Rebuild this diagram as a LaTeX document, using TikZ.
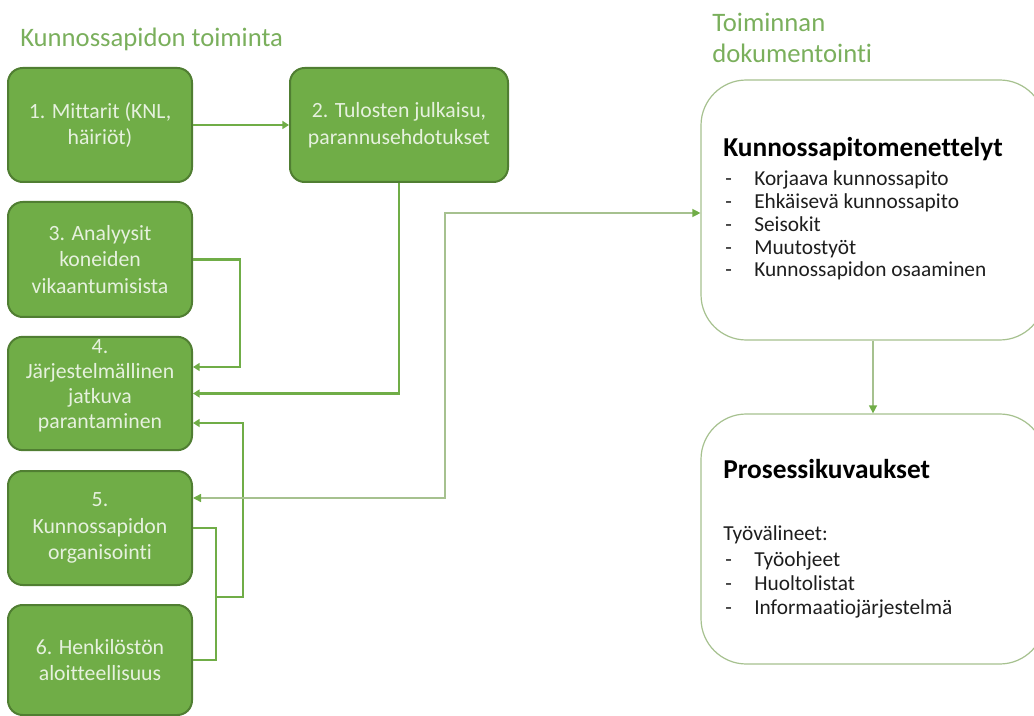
\documentclass[tikz,border=0pt]{standalone}
\usepackage{fontspec}
\setmainfont{Carlito}[Ligatures={NoCommon}]
\usetikzlibrary{arrows.meta,calc}

\definecolor{boxfill}{HTML}{70AD47}
\definecolor{boxedge}{HTML}{507E32}
\definecolor{boxtext}{HTML}{E6F1DE}
\definecolor{titlegreen}{HTML}{7AAF5C}
\definecolor{thinline}{HTML}{A6C18F}
\definecolor{bodytext}{HTML}{1E1E1E}

\begin{document}
\begin{tikzpicture}[x=0.75pt,y=-0.75pt,
  stepbox/.style={rectangle, rounded corners=11pt, fill=boxfill, draw=boxedge,
    line width=1.5pt, text=boxtext, align=center, inner sep=0pt,
    font=\fontsize{16.3}{19.9}\selectfont},
  steptext/.style={text=boxtext, align=center, inner sep=0pt,
    font=\fontsize{16.3}{18.75}\selectfont},
  docbox/.style={rectangle, rounded corners=34pt, draw=thinline, fill=white,
    line width=0.9pt, inner sep=0pt, minimum width=258pt},
  heading/.style={anchor=base west, inner sep=0pt, text=titlegreen,
    font=\fontsize{20}{24}\selectfont},
  dochead/.style={anchor=base west, inner sep=0pt, text=black,
    font=\bfseries\fontsize{20.5}{24}\selectfont},
  docline/.style={anchor=base west, inner sep=0pt, text=bodytext,
    font=\fontsize{16}{18}\selectfont},
  link/.style={draw=boxfill, line width=2.2pt,
    -{Triangle[length=5pt,width=6pt,color=boxfill]}},
  trunk/.style={draw=boxfill, line width=2.2pt},
  thinlink/.style={draw=thinline, line width=1pt},
  tip/.style={-{Triangle[length=6pt,width=6pt,color=boxfill]}}
]
\useasboundingbox (0,0) rectangle (1034,716);

% section headings
\node[heading] (hleft) at (20,47) {Kunnossapidon toiminta};
\node[heading] (hright1) at (712,32) {Toiminnan};
\node[heading] (hright2) at (712,63) {dokumentointi};

% activity boxes
\node[stepbox, minimum width=138pt, minimum height=85.5pt] (b1) at (100,125)
  {1. Mittarit (KNL,\\häiriöt)};
\node[stepbox, minimum width=163.5pt, minimum height=85.5pt] (b2) at (399,125)
  {2. Tulosten julkaisu,\\parannusehdotukset};
\node[stepbox, minimum width=138pt, minimum height=86.25pt] (b3) at (100,259.5)
  {3. Analyysit\\koneiden\\vikaantumisista};
\node[stepbox, minimum width=138pt, minimum height=85pt] (b4) at (100,393.5) {};
\node[steptext] (b4t) at (100,386)
  {4.\\Järjestelmällinen\\jatkuva\\parantaminen};
\node[stepbox, minimum width=138pt, minimum height=85.5pt] (b5) at (100,528)
  {5.\\Kunnossapidon\\organisointi};
\node[stepbox, minimum width=138pt, minimum height=82.5pt] (b6) at (100,660)
  {6. Henkilöstön\\aloitteellisuus};

% documentation boxes
\node[docbox, minimum height=195pt] (kA) at (873,210) {};
\node[docbox, minimum height=187.5pt] (kB) at (873,539) {};

\node[dochead] (kAh) at (723,157) {Kunnossapitomenettelyt};
\foreach \t [count=\i] in {Korjaava kunnossapito, Ehkäisevä kunnossapito,
    Seisokit, Muutostyöt, Kunnossapidon osaaminen}
  \node[docline] (kA\i) at (725,{186+22.75*(\i-1)}) {\makebox[21.75pt][l]{-}\t};

\node[dochead] (kBh) at (723,478) {Prosessikuvaukset};
\node[docline] (kBt) at (723,540) {Työvälineet:};
\foreach \t [count=\i] in {Työohjeet, Huoltolistat, Informaatiojärjestelmä}
  \node[docline] (kB\i) at (725,{566+24*(\i-1)}) {\makebox[21.75pt][l]{-}\t};

% connectors between activities
\draw[link] (b1.east) -- (b2.west);
\draw[link] (b2.south) |- (b4.east);
\coordinate (c3) at (240,367);
\draw[link] (b3.east) -| (c3) -- (c3 -| b4.east);
\coordinate (c56) at (216,597);
\coordinate (c4) at (243,423);
\draw[trunk] (b5.east) -| (c56) |- (b6.east);
\draw[link] (c56) -| (c4) -- (c4 -| b4.east);

% link between organisation and documentation
\coordinate (t1) at (445,498);
\coordinate (t2) at (445,213);
\draw[thinlink, {Triangle[length=6pt,width=6pt,color=boxfill]}-{Triangle[length=6pt,width=6pt,color=boxfill]}]
  (t1 -| b5.east) -- (t1) -- (t2) -- (t2 -| kA.west);
\draw[thinlink, tip] (kA.south) -- (kB.north);
\end{tikzpicture}
\end{document}
